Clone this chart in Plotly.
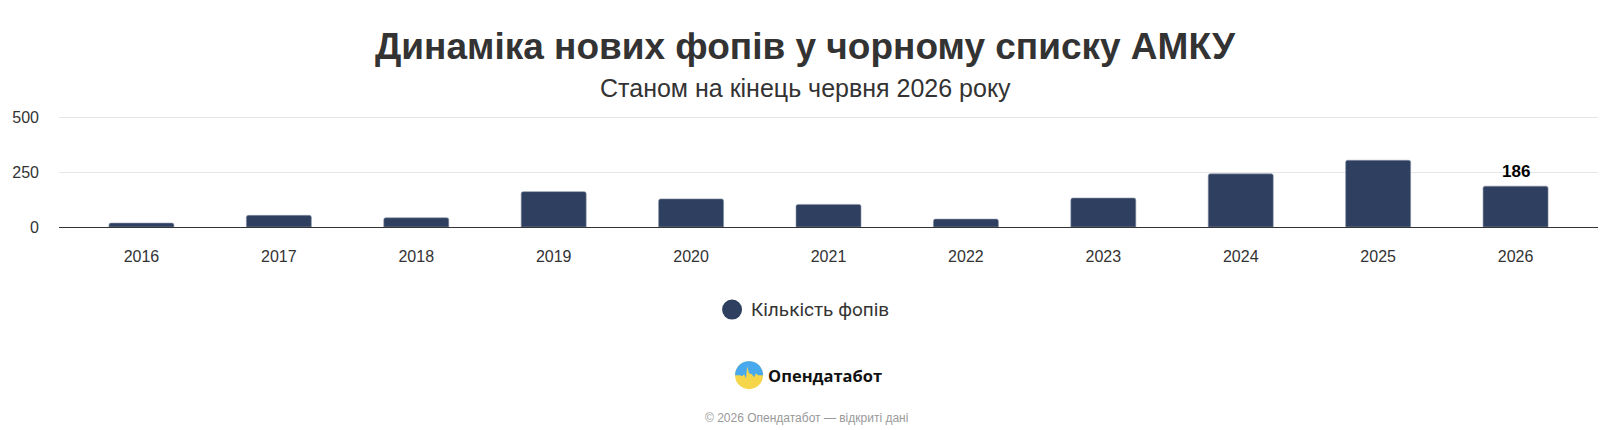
import numpy as np
import plotly.graph_objects as go

# ---- data ----
years = ["2016", "2017", "2018", "2019", "2020", "2021", "2022", "2023", "2024", "2025", "2026"]
counts = [18, 53, 42, 161, 128, 103, 36, 132, 242, 304, 186]
y_ticks = [0, 250, 500]
series_name = "Кількість фопів"
title_text = "Динаміка нових фопів у чорному списку АМКУ"
subtitle_text = "Станом на кінець червня 2026 року"
brand_text = "Опендатабот"
footer_text = "© 2026 Опендатабот — відкриті дані"

# ---- layout geometry (pixels) ----
W, H = 1611, 430
L, R = 58.5, 1598.5
B = 227.0
PX_PER_UNIT = 109.7 / 500
Y_MAX = 510
T = B - Y_MAX * PX_PER_UNIT


def px(x):
    return (x - L) / (R - L)


def py(y):
    return (B - y) / (B - T)


BAR = "#2e3f60"
TXT = "#333333"

fig = go.Figure()
fig.add_trace(go.Bar(
    x=years, y=counts, name=series_name,
    marker=dict(color=BAR, line=dict(color="#8a93a6", width=0.6), cornerradius=2),
    showlegend=False, hoverinfo="x+y",
))

annotations = []
# data label for the last bar
last = len(years) - 1
annotations.append(dict(
    x=last, y=counts[last], xref="x", yref="y", text="<b>%d</b>" % counts[last],
    showarrow=False, yanchor="bottom", yshift=3,
    font=dict(family="Liberation Sans, Arial", size=17, color="#000000"),
))
# title / subtitle
annotations.append(dict(x=px(805.5), y=py(47), xref="paper", yref="paper", text="<b>%s</b>" % title_text,
                        showarrow=False, xanchor="center", yanchor="middle",
                        font=dict(family="Liberation Sans, Arial", size=37, color=TXT)))
annotations.append(dict(x=px(805.5), y=py(88), xref="paper", yref="paper", text=subtitle_text,
                        showarrow=False, xanchor="center", yanchor="middle",
                        font=dict(family="Liberation Sans, Arial", size=25, color=TXT)))
# legend text
annotations.append(dict(x=px(748.5), y=py(309.5), xref="paper", yref="paper", text=series_name,
                        showarrow=False, xanchor="left", yanchor="middle",
                        font=dict(family="Roboto", size=19, color=TXT)))
# brand
annotations.append(dict(x=px(765.5), y=py(375), xref="paper", yref="paper", text="<b>%s</b>" % brand_text,
                        showarrow=False, xanchor="left", yanchor="middle",
                        font=dict(family="Open Sans", size=16.5, color="#111111")))
# footer
annotations.append(dict(x=px(806), y=py(418), xref="paper", yref="paper", text=footer_text,
                        showarrow=False, xanchor="center", yanchor="middle",
                        font=dict(family="Liberation Sans, Arial", size=12, color="#999999")))

shapes = []
# legend circle
cx, cy, r = 732, 309.5, 10
shapes.append(dict(type="circle", xref="paper", yref="paper",
                   x0=px(cx - r), x1=px(cx + r), y0=py(cy + r), y1=py(cy - r),
                   fillcolor=BAR, line=dict(width=0)))

# logo: yellow disc + blue upper part with waveform edge
lx, ly, lr = 749, 375, 14
shapes.append(dict(type="circle", xref="paper", yref="paper",
                   x0=px(lx - lr), x1=px(lx + lr), y0=py(ly + lr), y1=py(ly - lr),
                   fillcolor="#f5d54a", line=dict(width=0)))
ang = np.linspace(np.pi, 0, 40)
arc = [(lx + lr * np.cos(a), ly - lr * np.sin(a)) for a in ang]
wave = [(14, 0), (9, 0), (7, -2), (5, 2), (3, -1), (0, -2), (-2, -9), (-3, 3), (-5, -1), (-7, 1), (-9, 0), (-14, 0)]
pts = arc + [(lx + dx, ly + dy) for dx, dy in wave]
path = "M " + " L ".join("%.5f,%.5f" % (px(x), py(y)) for x, y in pts) + " Z"
shapes.append(dict(type="path", xref="paper", yref="paper", path=path,
                   fillcolor="#48a9ef", line=dict(width=0)))

fig.update_layout(
    width=W, height=H,
    margin=dict(l=L, r=W - R, t=T, b=H - B, autoexpand=False),
    paper_bgcolor="white", plot_bgcolor="white",
    bargap=0.527,
    showlegend=False,
    annotations=annotations,
    shapes=shapes,
    xaxis=dict(type="category", range=[-0.6, len(years) - 0.4], showgrid=False,
               showline=True, linecolor="#333333", linewidth=1, ticks="",
               ticklabelstandoff=15,
               tickfont=dict(family="Liberation Sans, Arial", size=16, color=TXT)),
    yaxis=dict(range=[0, Y_MAX], tickvals=y_ticks, showgrid=True, gridcolor="#e6e6e6",
               zeroline=False, showline=False, ticks="", ticklabelstandoff=19,
               tickfont=dict(family="Liberation Sans, Arial", size=16, color=TXT)),
)

fig.write_html("out.html")
